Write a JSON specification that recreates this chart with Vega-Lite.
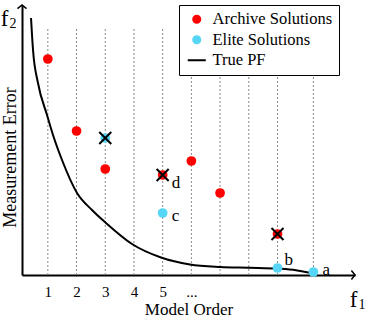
{
  "$schema": "https://vega.github.io/schema/vega-lite/v6.json",
  "width": 333,
  "height": 270,
  "autosize": {"type": "none"},
  "padding": {"left": 22, "top": 5, "right": 10, "bottom": 44},
  "background": "white",
  "config": {
    "view": {"stroke": null},
    "font": "Liberation Serif",
    "axis": {"labelFont": "Liberation Serif", "titleFont": "Liberation Serif"},
    "legend": {"labelFont": "Liberation Serif", "titleFont": "Liberation Serif"},
    "text": {"font": "Liberation Serif", "color": "black"}
  },
  "datasets": {
    "points": [
      {"x": 1, "y": 21.6, "s": "Archive Solutions", "dominated": false, "label": ""},
      {"x": 2, "y": 14.4, "s": "Archive Solutions", "dominated": false, "label": ""},
      {"x": 3, "y": 13.7, "s": "Elite Solutions", "dominated": true, "label": ""},
      {"x": 3, "y": 10.6, "s": "Archive Solutions", "dominated": false, "label": ""},
      {"x": 5, "y": 10.0, "s": "Archive Solutions", "dominated": true, "label": "d"},
      {"x": 5, "y": 6.2, "s": "Elite Solutions", "dominated": false, "label": "c"},
      {"x": 6, "y": 11.4, "s": "Archive Solutions", "dominated": false, "label": ""},
      {"x": 7, "y": 8.2, "s": "Archive Solutions", "dominated": false, "label": ""},
      {"x": 9, "y": 4.1, "s": "Archive Solutions", "dominated": true, "label": ""},
      {"x": 9, "y": 0.7, "s": "Elite Solutions", "dominated": false, "label": "b"},
      {"x": 10.25, "y": 0.3, "s": "Elite Solutions", "dominated": false, "label": "a"}
    ],
    "curve": [
      {"x": 0.414, "y": 25.7, "s": "True PF"},
      {"x": 0.484, "y": 22.5, "s": "True PF"},
      {"x": 0.657, "y": 19.2, "s": "True PF"},
      {"x": 0.971, "y": 16.0, "s": "True PF"},
      {"x": 1.18, "y": 14.0, "s": "True PF"},
      {"x": 1.494, "y": 11.5, "s": "True PF"},
      {"x": 2.017, "y": 8.2, "s": "True PF"},
      {"x": 2.538, "y": 6.5, "s": "True PF"},
      {"x": 3.026, "y": 5.2, "s": "True PF"},
      {"x": 3.932, "y": 3.1, "s": "True PF"},
      {"x": 4.942, "y": 1.75, "s": "True PF"},
      {"x": 5.952, "y": 1.05, "s": "True PF"},
      {"x": 6.997, "y": 0.8, "s": "True PF"},
      {"x": 8.007, "y": 0.72, "s": "True PF"},
      {"x": 9.017, "y": 0.63, "s": "True PF"},
      {"x": 9.645, "y": 0.48, "s": "True PF"},
      {"x": 10.132, "y": 0.22, "s": "True PF"}
    ],
    "grid": [
      {"x": 1}, {"x": 2}, {"x": 3}, {"x": 4}, {"x": 5},
      {"x": 6}, {"x": 7}, {"x": 8}, {"x": 9}, {"x": 10.25}
    ],
    "axisends": [
      {"axis": "f1", "x": 11.7, "y": 0, "lx": 11.787, "ly": -3.2, "main": "f", "sub": "1"},
      {"axis": "f2", "x": 0.1, "y": 27, "lx": -0.37, "ly": 24.9, "main": "f", "sub": "2"}
    ]
  },
  "layer": [
    {
      "data": {"name": "grid"},
      "mark": {"type": "rule", "color": "#888888", "strokeWidth": 1, "strokeDash": [2, 2]},
      "encoding": {
        "x": {"field": "x", "type": "quantitative", "scale": {"domain": [0.1, 11.7], "nice": false, "zero": false},
          "axis": {
            "orient": "bottom", "domainColor": "black", "domainWidth": 2, "ticks": false, "grid": false,
            "values": [1, 2, 3, 4, 5, 6],
            "labelExpr": "datum.value == 6 ? '...' : datum.label",
            "labelFont": "Liberation Serif", "labelFontSize": 15, "labelColor": "black", "labelPadding": 9,
            "encode": {"labels": {"update": {"dy": [{"test": "datum.value == 6", "value": -9}, {"value": 0}]}}},
            "title": "Model Order", "titleFont": "Liberation Serif", "titleFontSize": 17, "titleFontWeight": "normal",
            "titleColor": "black", "titlePadding": 2
          }},
        "y": {"datum": 0, "type": "quantitative", "scale": {"domain": [0, 27], "nice": false, "zero": false},
          "axis": {
            "orient": "left", "domainColor": "black", "domainWidth": 2, "ticks": false, "labels": false, "grid": false,
            "title": "Measurement Error", "titleFont": "Liberation Serif", "titleFontSize": 18, "titleFontWeight": "normal",
            "titleColor": "black", "titlePadding": 3, "titleY": 152
          }},
        "y2": {"datum": 24.6}
      }
    },
    {
      "data": {"name": "curve"},
      "mark": {"type": "line", "interpolate": "monotone", "strokeWidth": 2},
      "encoding": {
        "x": {"field": "x", "type": "quantitative"},
        "y": {"field": "y", "type": "quantitative"},
        "color": {"field": "s", "type": "nominal"}
      }
    },
    {
      "data": {"name": "points"},
      "mark": {"type": "point", "filled": true, "size": 95, "opacity": 1, "strokeWidth": 0},
      "encoding": {
        "x": {"field": "x", "type": "quantitative"},
        "y": {"field": "y", "type": "quantitative"},
        "color": {"field": "s", "type": "nominal",
          "scale": {"domain": ["Archive Solutions", "Elite Solutions", "True PF"], "range": ["#ff0000", "#56d5f5", "#000000"]},
          "legend": {
            "orient": "none", "legendX": 157, "legendY": 0, "title": null,
            "labelFont": "Liberation Serif", "labelFontSize": 16.5, "labelColor": "black",
            "labelExpr": "datum.label + '\u00a0\u00a0\u00a0\u00a0'",
            "symbolSize": 50, "symbolOpacity": 1, "strokeColor": "black", "fillColor": "white",
            "padding": 6, "symbolOffset": 3.5, "labelOffset": 7.5, "rowPadding": 3.5,
            "encode": {
              "symbols": {"update": {
                "fill": [{"test": "datum.value === 'True PF'", "value": "transparent"}, {"scale": "color", "field": "value"}],
                "stroke": [{"test": "datum.value === 'True PF'", "value": "black"}, {"value": "transparent"}],
                "strokeWidth": {"value": 2},
                "opacity": {"value": 1}
              }}
            }
          }},
        "shape": {"field": "s", "type": "nominal",
          "scale": {"domain": ["Archive Solutions", "Elite Solutions", "True PF"], "range": ["circle", "circle", "M-2.55,0L2.55,0"]},
          "legend": {
            "orient": "none", "legendX": 157, "legendY": 0, "title": null,
            "labelFont": "Liberation Serif", "labelFontSize": 16.5, "labelColor": "black",
            "labelExpr": "datum.label + '\u00a0\u00a0\u00a0\u00a0'",
            "symbolSize": 50, "symbolOpacity": 1, "strokeColor": "black", "fillColor": "white",
            "padding": 6, "symbolOffset": 3.5, "labelOffset": 7.5, "rowPadding": 3.5,
            "encode": {
              "symbols": {"update": {
                "fill": [{"test": "datum.value === 'True PF'", "value": "transparent"}, {"scale": "color", "field": "value"}],
                "stroke": [{"test": "datum.value === 'True PF'", "value": "black"}, {"value": "transparent"}],
                "strokeWidth": {"value": 2},
                "opacity": {"value": 1}
              }}
            }
          }}
      }
    },
    {
      "data": {"name": "points"},
      "transform": [{"filter": "datum.dominated"}],
      "mark": {"type": "point", "shape": "M-1,-1L1,1M-1,1L1,-1", "filled": false, "size": 144, "color": "black", "strokeWidth": 2, "opacity": 1},
      "encoding": {
        "x": {"field": "x", "type": "quantitative"},
        "y": {"field": "y", "type": "quantitative"}
      }
    },
    {
      "data": {"name": "points"},
      "transform": [{"filter": "datum.label == 'd'"}],
      "mark": {"type": "text", "align": "left", "baseline": "alphabetic", "fontSize": 17, "dx": 9, "dy": 13},
      "encoding": {"x": {"field": "x", "type": "quantitative"}, "y": {"field": "y", "type": "quantitative"}, "text": {"field": "label"}}
    },
    {
      "data": {"name": "points"},
      "transform": [{"filter": "datum.label == 'c'"}],
      "mark": {"type": "text", "align": "left", "baseline": "alphabetic", "fontSize": 17, "dx": 9, "dy": 8},
      "encoding": {"x": {"field": "x", "type": "quantitative"}, "y": {"field": "y", "type": "quantitative"}, "text": {"field": "label"}}
    },
    {
      "data": {"name": "points"},
      "transform": [{"filter": "datum.label == 'b'"}],
      "mark": {"type": "text", "align": "left", "baseline": "alphabetic", "fontSize": 17, "dx": 7, "dy": -3},
      "encoding": {"x": {"field": "x", "type": "quantitative"}, "y": {"field": "y", "type": "quantitative"}, "text": {"field": "label"}}
    },
    {
      "data": {"name": "points"},
      "transform": [{"filter": "datum.label == 'a'"}],
      "mark": {"type": "text", "align": "left", "baseline": "alphabetic", "fontSize": 17, "dx": 9, "dy": 3},
      "encoding": {"x": {"field": "x", "type": "quantitative"}, "y": {"field": "y", "type": "quantitative"}, "text": {"field": "label"}}
    },
    {
      "data": {"name": "axisends"},
      "transform": [{"filter": "datum.axis == 'f1'"}],
      "mark": {"type": "point", "shape": "M-0.8,-1L0,0L-0.8,1", "filled": false, "size": 81, "color": "black", "strokeWidth": 1.5, "opacity": 1},
      "encoding": {"x": {"field": "x", "type": "quantitative"}, "y": {"field": "y", "type": "quantitative"}}
    },
    {
      "data": {"name": "axisends"},
      "transform": [{"filter": "datum.axis == 'f2'"}],
      "mark": {"type": "point", "shape": "M-1,0.8L0,0L1,0.8", "filled": false, "size": 81, "color": "black", "strokeWidth": 1.5, "opacity": 1},
      "encoding": {"x": {"field": "x", "type": "quantitative"}, "y": {"field": "y", "type": "quantitative"}}
    },
    {
      "data": {"name": "axisends"},
      "mark": {"type": "text", "align": "right", "baseline": "alphabetic", "fontSize": 23},
      "encoding": {"x": {"field": "lx", "type": "quantitative"}, "y": {"field": "ly", "type": "quantitative"}, "text": {"field": "main"}}
    },
    {
      "data": {"name": "axisends"},
      "mark": {"type": "text", "align": "left", "baseline": "alphabetic", "fontSize": 14, "dx": 1, "dy": 2},
      "encoding": {"x": {"field": "lx", "type": "quantitative"}, "y": {"field": "ly", "type": "quantitative"}, "text": {"field": "sub"}}
    }
  ]
}
